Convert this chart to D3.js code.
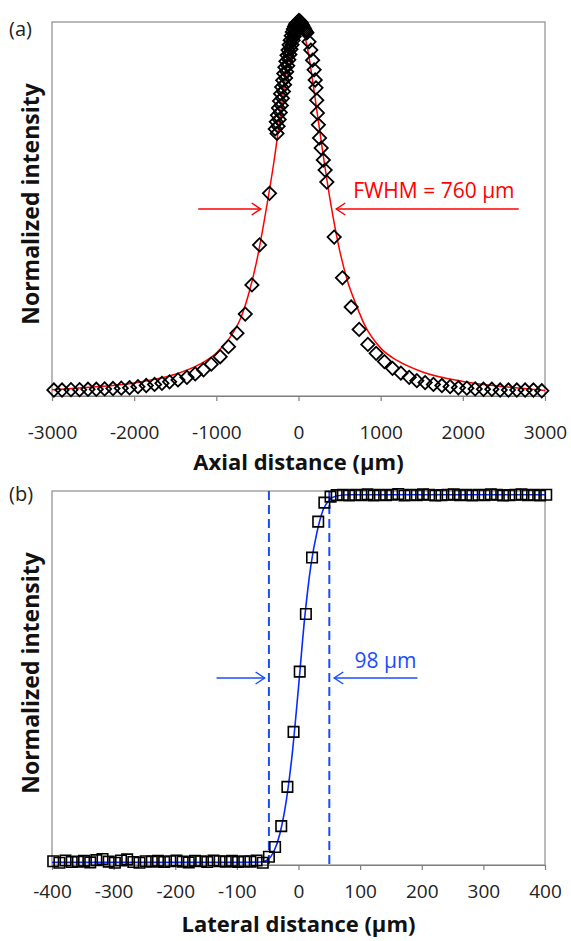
<!doctype html>
<html lang="en">
<head>
<meta charset="UTF-8" />
<title>Axial and lateral intensity profiles</title>
<script src="https://cdn.jsdelivr.net/npm/d3@7"></script>
<style>
  body { margin: 0; background: #fff; }
  svg text { font-family: "Open Sans", "DejaVu Sans", sans-serif; }
</style>
</head>
<body>
<div id="chart"></div>
<script>
// ---- (a) axial scan ----
const axialTicks = [-3000, -2000, -1000, 0, 1000, 2000, 3000];

// measured points (diamonds), grouped left tail / dense flank / peak / right flank / right tail
const axialX = [
  -2977, -2878, -2769, -2664, -2562, -2461, -2360, -2258, -2157, -2056, -1954, -1853, -1752, -1662,
  -1569, -1467, -1358, -1257, -1156, -1062, -953, -852, -749, -648, -567, -474, -353,
  -283, -270, -257, -244, -231, -218, -205, -192, -179, -166, -153, -140, -127, -114, -101, -88, -75, -62, -49, -36, -23, -10,
  -261, -248, -235, -222, -209, -196, -183, -170, -157, -144, -131, -118, -105, -92, -79, -66, -53, -40, -27, -14, -1,
  5, 14, 24, 34, 44, 54, 64, 74, 84, 93,
  102, 128, 150, 172, 190, 203, 213, 222, 230, 242, 256, 276, 302, 324, 345,
  434, 535, 641, 738, 844, 945, 1046, 1144, 1246, 1347, 1440, 1541, 1642, 1745, 1845, 1946, 2049,
  2150, 2251, 2353, 2454, 2555, 2657, 2758, 2859, 2961
];
const axialY = [
  0.016, 0.016, 0.017, 0.017, 0.018, 0.018, 0.019, 0.020, 0.021, 0.022, 0.025, 0.028, 0.031, 0.034,
  0.038, 0.043, 0.050, 0.059, 0.070, 0.085, 0.105, 0.132, 0.168, 0.219, 0.297, 0.404, 0.542,
  0.714, 0.733, 0.751, 0.770, 0.789, 0.808, 0.826, 0.844, 0.862, 0.879, 0.895, 0.911, 0.925, 0.939, 0.951, 0.963, 0.973, 0.981, 0.988, 0.994, 0.997, 0.999,
  0.702, 0.721, 0.739, 0.758, 0.777, 0.796, 0.814, 0.832, 0.850, 0.867, 0.883, 0.899, 0.913, 0.927, 0.939, 0.951, 0.961, 0.969, 0.976, 0.982, 0.986,
  1.004, 1.003, 1.000, 0.997, 0.993, 0.989, 0.985, 0.981, 0.977, 0.973,
  0.971, 0.947, 0.925, 0.898, 0.872, 0.845, 0.824, 0.791, 0.757, 0.725, 0.690, 0.663, 0.631, 0.604, 0.572,
  0.425, 0.316, 0.238, 0.178, 0.138, 0.114, 0.092, 0.074, 0.061, 0.050, 0.041, 0.036, 0.031, 0.028, 0.025, 0.022, 0.021,
  0.019, 0.018, 0.018, 0.016, 0.016, 0.016, 0.016, 0.016, 0.014
];

// red fitted curve
const axialFitX = [-3000, -2500, -2000, -1500, -1200, -1000, -800, -700, -600, -500, -400, -300, -200, -100, 0,
  100, 200, 300, 400, 500, 600, 700, 800, 1000, 1200, 1500, 2000, 2500, 3000];
const axialFitY = [0.017, 0.024, 0.035, 0.058, 0.085, 0.115, 0.168, 0.21, 0.278, 0.37, 0.49, 0.625, 0.785, 0.935, 1.0,
  0.94, 0.80, 0.645, 0.505, 0.39, 0.305, 0.245, 0.192, 0.128, 0.095, 0.065, 0.039, 0.025, 0.015];

// ---- (b) lateral scan ----
const lateralTicks = [-400, -300, -200, -100, 0, 100, 200, 300, 400];
const lateralX = [
  -398, -388, -378, -368, -358, -348, -338, -328, -318, -308, -298, -288, -278, -268, -258, -248, -238,
  -228, -218, -208, -198, -188, -178, -168, -158, -148, -138, -128, -118, -108, -98, -88, -78, -68, -58,
  -48, -38, -28, -18, -8, 2, 12, 22, 32, 42, 52,
  62, 72, 82, 92, 102, 112, 122, 132, 142, 152, 162, 172, 182, 192, 202, 212, 222, 232, 242, 252, 262,
  272, 282, 292, 302, 312, 322, 332, 342, 352, 362, 372, 382, 392, 402
];
const lateralY = [
  0.010, 0.006, 0.012, 0.008, 0.009, 0.011, 0.007, 0.013, 0.016, 0.009, 0.006, 0.012, 0.015, 0.008, 0.006, 0.010, 0.009,
  0.011, 0.008, 0.010, 0.012, 0.009, 0.007, 0.011, 0.010, 0.008, 0.012, 0.010, 0.009, 0.011, 0.008, 0.010, 0.009, 0.012, 0.006,
  0.022, 0.048, 0.104, 0.209, 0.356, 0.517, 0.671, 0.822, 0.918, 0.969, 0.985,
  0.989, 0.990, 0.988, 0.990, 0.989, 0.991, 0.988, 0.990, 0.989, 0.990, 0.992, 0.988, 0.990, 0.989, 0.991, 0.990, 0.988,
  0.989, 0.990, 0.991, 0.989, 0.990, 0.988, 0.990, 0.989, 0.991, 0.990, 0.988, 0.989, 0.990, 0.991, 0.989, 0.990, 0.988, 0.990
];

// blue fitted edge
const lateralFitX = [-400, -100, -60, -50, -40, -30, -20, -10, 0, 10, 20, 30, 40, 50, 60, 80, 400];
const lateralFitY = [0.007, 0.007, 0.008, 0.014, 0.036, 0.085, 0.17, 0.30, 0.475, 0.66, 0.80, 0.89, 0.95, 0.976, 0.986, 0.99, 0.99];

// 98 um edge width markers
const edgeLines = [-48, 50];

const width = 571;
const height = 941;
const marginLeft = 52;
const marginRight = 26;

const svg = d3.select("#chart").append("svg")
    .attr("width", width)
    .attr("height", height);

function panel(top, bottom, domain, ticks, pad) {
  const x = d3.scaleLinear().domain(domain).range([marginLeft, width - marginRight]);
  const y = d3.scaleLinear().domain([0, 1]).range([bottom, top]);
  const g = svg.append("g");

  g.append("rect")
      .attr("x", marginLeft)
      .attr("y", top)
      .attr("width", width - marginRight - marginLeft)
      .attr("height", bottom - top)
      .attr("fill", "none")
      .attr("stroke", "#8c8c8c")
      .attr("stroke-width", 1.2);

  const axis = g.append("g")
      .attr("transform", `translate(0,${bottom})`)
      .call(d3.axisBottom(x).tickValues(ticks).tickSize(5).tickSizeOuter(0)
        .tickPadding(pad).tickFormat(d => String(d)));
  axis.select(".domain").attr("stroke", "#7f7f7f").attr("stroke-width", 1.2);
  axis.selectAll(".tick line").attr("stroke", "#7f7f7f").attr("stroke-width", 1.2);
  axis.selectAll("text")
      .attr("font-size", 19)
      .attr("fill", "#222")
      .style("font-family", '"Open Sans", sans-serif');
  return { g, x, y };
}

function arrow(g, x1, x2, yy, color) {
  const dir = x2 > x1 ? 1 : -1;
  g.append("line")
      .attr("x1", x1).attr("x2", x2).attr("y1", yy).attr("y2", yy)
      .attr("stroke", color).attr("stroke-width", 1.5);
  g.append("path")
      .attr("d", `M${x2 - dir * 9},${yy - 6}L${x2},${yy}L${x2 - dir * 9},${yy + 6}`)
      .attr("fill", "none").attr("stroke", color).attr("stroke-width", 1.5);
}

function titles(top, bottom, label, xTitleY, tag, tagY) {
  svg.append("text")
      .attr("transform", `translate(39,${(top + bottom) / 2 - 5}) rotate(-90)`)
      .attr("text-anchor", "middle")
      .attr("font-size", 23)
      .attr("font-weight", "bold")
      .attr("fill", "#111")
      .text("Normalized intensity");
  svg.append("text")
      .attr("x", (marginLeft + width - marginRight) / 2)
      .attr("y", xTitleY)
      .attr("text-anchor", "middle")
      .attr("font-size", 22)
      .attr("font-weight", "bold")
      .attr("fill", "#111")
      .text(label);
  svg.append("text")
      .attr("x", 9)
      .attr("y", tagY)
      .attr("font-size", 20)
      .attr("fill", "#222")
      .text(tag);
}

// ---------- panel (a) ----------
const a = panel(22, 396, [-3000, 3000], axialTicks, 25);
const axialLine = d3.line()
    .x((_, i) => a.x(axialFitX[i]))
    .y(d => a.y(d))
    .curve(d3.curveMonotoneX);

a.g.append("path")
    .attr("d", axialLine(axialFitY))
    .attr("fill", "none")
    .attr("stroke", "#ff0000")
    .attr("stroke-width", 1.5);

const diamond = d3.symbol().type(d3.symbolSquare).size(88);
a.g.selectAll(".pt")
  .data(axialY)
  .join("path")
    .attr("class", "pt")
    .attr("transform", (d, i) => `translate(${a.x(axialX[i])},${a.y(d)}) rotate(45)`)
    .attr("d", diamond)
    .attr("fill", "none")
    .attr("stroke", "#000")
    .attr("stroke-width", 1.8);

arrow(a.g, a.x(-1220), a.x(-460), a.y(0.5), "#ff0000");
arrow(a.g, a.x(2680), a.x(460), a.y(0.5), "#ff0000");
a.g.append("text")
    .attr("x", a.x(665))
    .attr("y", a.y(0.53))
    .attr("font-size", 21)
    .attr("fill", "#ff0000")
    .text("FWHM = 760 \u00b5m");

titles(22, 396, "Axial distance (\u00b5m)", 470, "(a)", 36);

// ---------- panel (b) ----------
const b = panel(491, 865, [-400, 400], lateralTicks, 15);

b.g.selectAll(".edge")
  .data(edgeLines)
  .join("line")
    .attr("class", "edge")
    .attr("x1", d => b.x(d)).attr("x2", d => b.x(d))
    .attr("y1", b.y(1)).attr("y2", b.y(0))
    .attr("stroke", "#1a4cff")
    .attr("stroke-width", 2)
    .attr("stroke-dasharray", "9,5");

const lateralLine = d3.line()
    .x((_, i) => b.x(lateralFitX[i]))
    .y(d => b.y(d))
    .curve(d3.curveMonotoneX);

b.g.append("path")
    .attr("d", lateralLine(lateralFitY))
    .attr("fill", "none")
    .attr("stroke", "#0a2bff")
    .attr("stroke-width", 1.6);

const square = d3.symbol().type(d3.symbolSquare).size(110);
b.g.selectAll(".sq")
  .data(lateralY)
  .join("path")
    .attr("class", "sq")
    .attr("transform", (d, i) => `translate(${b.x(lateralX[i])},${b.y(d)})`)
    .attr("d", square)
    .attr("fill", "none")
    .attr("stroke", "#000")
    .attr("stroke-width", 1.6);

arrow(b.g, b.x(-133), b.x(-55), b.y(0.5), "#1a4cff");
arrow(b.g, b.x(193), b.x(58), b.y(0.5), "#1a4cff");
b.g.append("text")
    .attr("x", b.x(91))
    .attr("y", b.y(0.527))
    .attr("font-size", 21)
    .attr("fill", "#1a4cff")
    .text("98 \u00b5m");

titles(491, 865, "Lateral distance (\u00b5m)", 932, "(b)", 501);
</script>
</body>
</html>
